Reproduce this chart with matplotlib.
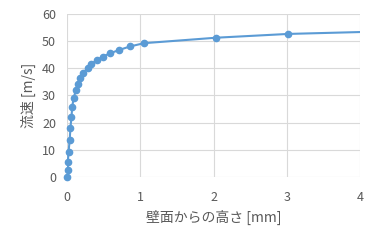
import matplotlib
matplotlib.use("Agg")
import matplotlib.pyplot as plt

plt.rcParams['font.family'] = ['Noto Sans CJK JP', 'DejaVu Sans']

# wall distance [mm] vs velocity [m/s]
height_mm = [0.0, 0.01, 0.01, 0.02, 0.035, 0.045, 0.06, 0.07, 0.09, 0.12, 0.15,
             0.18, 0.22, 0.28, 0.33, 0.41, 0.49, 0.59, 0.71, 0.86, 1.05,
             2.03, 3.02, 5.0]
velocity = [0.0, 2.6, 5.6, 9.3, 13.5, 17.9, 22.2, 25.9, 29.1, 31.9, 34.3,
            36.5, 38.3, 40.0, 41.6, 43.0, 44.3, 45.5, 46.7, 48.0, 49.2,
            51.2, 52.6, 54.0]

x_max = 4

fig = plt.figure(figsize=(3.77, 2.4), dpi=100)
ax = fig.add_axes([0.178, 0.2625, 0.777, 0.68])

ax.plot(height_mm, velocity, color='#5B9BD5', linewidth=1.5)
# markers only for points inside the axis range, not clipped at the edges
vis = [(h, v) for h, v in zip(height_mm, velocity) if h <= x_max]
ax.plot([p[0] for p in vis], [p[1] for p in vis], linestyle='none',
        marker='o', markersize=4.5, color='#5B9BD5', clip_on=False, zorder=3)

ax.set_xlim(0, x_max)
ax.set_ylim(0, 60)
ax.set_xticks([0, 1, 2, 3, 4])
ax.set_yticks(range(0, 61, 10))
ax.grid(True, color='#D9D9D9', linewidth=0.8)
ax.set_axisbelow(True)
for s in ax.spines.values():
    s.set_visible(False)
ax.tick_params(length=0, labelsize=9, colors='#595959')
ax.tick_params(axis='x', pad=10)
ax.tick_params(axis='y', pad=8)

ax.set_xlabel('壁面からの高さ [mm]', fontsize=10, color='#595959', labelpad=4)
ax.set_ylabel('流速 [m/s]', fontsize=10, color='#595959', labelpad=4)

fig.savefig('out.png', dpi=100)
